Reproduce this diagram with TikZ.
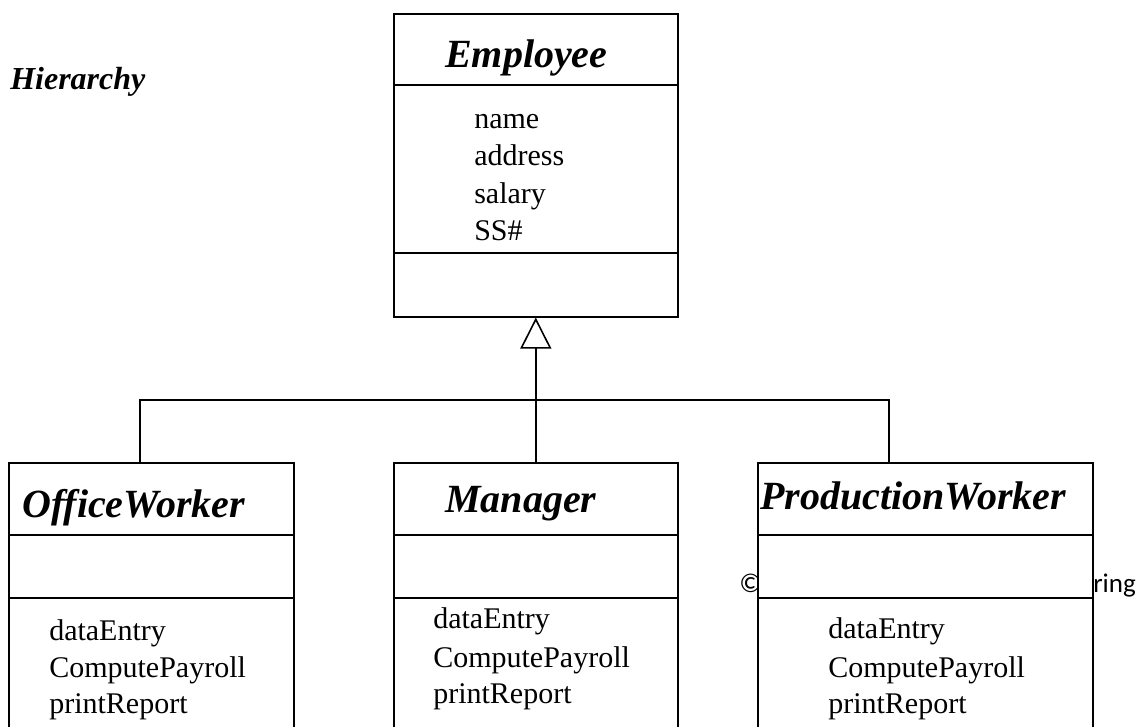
\documentclass[tikz,border=0pt]{standalone}
\usepackage{fontspec}
\setmainfont{Liberation Serif}
\newfontfamily\calibfont{Carlito}
\usetikzlibrary{arrows.meta,calc}
\begin{document}
\begin{tikzpicture}[x=0.75pt,y=-0.75pt,
  classbox/.style={draw, line width=1.2pt, fill=white, inner sep=0pt, anchor=north west},
  divider/.style={line width=1.2pt},
  conn/.style={line width=1.2pt},
  cname/.style={font=\fontsize{30}{36}\selectfont\bfseries\itshape, anchor=base west, inner sep=0pt},
  attr/.style={font=\fontsize{22.5}{27}\selectfont, anchor=base west, inner sep=0pt},
  ttl/.style={font=\fontsize{24}{29}\selectfont\bfseries\itshape, anchor=base west, inner sep=0pt},
  copy/.style={font=\fontsize{20.25}{24}\selectfont\calibfont, anchor=base west, inner sep=0pt}]
\useasboundingbox[fill=white] (0,0) rectangle (1144,726);

% title and background text
\node[ttl] (title) at (10,89) {Hierarchy};
\node[copy] (copyA) at (739,592) {©};
\node[copy] (copyB) at (1093,592) {ring};

% Employee
\node[classbox, minimum width=213pt, minimum height=227.25pt] (emp) at (393,13) {};
\draw[divider] ($(emp.north west)+(0,72)$) -- ($(emp.north east)+(0,72)$);
\draw[divider] ($(emp.north west)+(0,240)$) -- ($(emp.north east)+(0,240)$);
\node[cname] (empname) at (445,67) {Employee};
\node[attr] (ea1) at (474,128) {name};
\node[attr] (ea2) at (474,165) {address};
\node[attr] (ea3) at (474,203) {salary};
\node[attr] (ea4) at (474,240) {SS\#};

% OfficeWorker
\node[classbox, minimum width=213.75pt, minimum height=210pt] (ow) at (8,462) {};
\draw[divider] ($(ow.north west)+(0,73)$) -- ($(ow.north east)+(0,73)$);
\draw[divider] ($(ow.north west)+(0,136)$) -- ($(ow.north east)+(0,136)$);
\node[cname] (owname) at (22,517) {OfficeWorker};
\node[attr] (ow1) at (49,640) {dataEntry};
\node[attr] (ow2) at (49,677) {ComputePayroll};
\node[attr] (ow3) at (49,713) {printReport};

% Manager
\node[classbox, minimum width=213pt, minimum height=210pt] (mg) at (393,462) {};
\draw[divider] ($(mg.north west)+(0,73)$) -- ($(mg.north east)+(0,73)$);
\draw[divider] ($(mg.north west)+(0,136)$) -- ($(mg.north east)+(0,136)$);
\node[cname] (mgname) at (445,512) {Manager};
\node[attr] (mg1) at (433,628) {dataEntry};
\node[attr] (mg2) at (433,667) {ComputePayroll};
\node[attr] (mg3) at (433,703) {printReport};

% ProductionWorker
\node[classbox, minimum width=251.25pt, minimum height=210pt] (pw) at (757,462) {};
\draw[divider] ($(pw.north west)+(0,73)$) -- ($(pw.north east)+(0,73)$);
\draw[divider] ($(pw.north west)+(0,136)$) -- ($(pw.north east)+(0,136)$);
\node[cname] (pwname) at (760,509) {ProductionWorker};
\node[attr] (pw1) at (828,638) {dataEntry};
\node[attr] (pw2) at (828,677) {ComputePayroll};
\node[attr] (pw3) at (828,713) {printReport};

% connectors
\coordinate (junc) at (mg.north |- 0,400);
\coordinate (owtop) at ($(ow.north west)+(132,0)$);
\coordinate (pwtop) at ($(pw.north west)+(132,0)$);
\draw[conn] (owtop) |- (junc) -| (pwtop);
\draw[conn] (mg.north) -- (junc);
\draw[conn, -{Triangle[open, length=23.25pt, width=23.25pt, line width=1.2pt]}] (junc) -- (emp.south);
\end{tikzpicture}
\end{document}
